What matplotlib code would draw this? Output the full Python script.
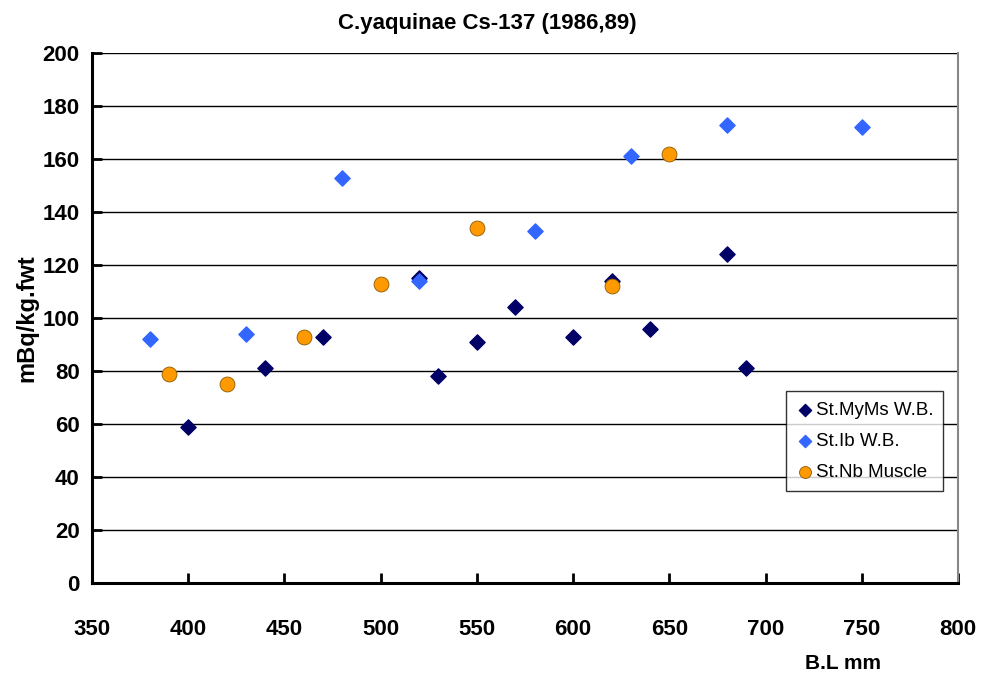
import matplotlib
matplotlib.use("Agg")
import matplotlib.pyplot as plt

plt.rcParams['font.family'] = ['Liberation Sans Narrow', 'Liberation Sans', 'DejaVu Sans']

# St.MyMs W.B.
mym_x = [400, 440, 470, 520, 530, 550, 570, 600, 620, 640, 680, 690]
mym_y = [59, 81, 93, 115, 78, 91, 104, 93, 114, 96, 124, 81]
# St.Ib W.B.
ib_x = [380, 430, 480, 520, 580, 630, 680, 750]
ib_y = [92, 94, 153, 114, 133, 161, 173, 172]
# St.Nb Muscle
nb_x = [390, 420, 460, 500, 550, 620, 650]
nb_y = [79, 75, 93, 113, 134, 112, 162]

x_ticks = [350, 400, 450, 500, 550, 600, 650, 700, 750, 800]
y_ticks = [0, 20, 40, 60, 80, 100, 120, 140, 160, 180, 200]

fig = plt.figure(figsize=(9.81, 6.73), dpi=100)
ax = fig.add_axes([0.0938, 0.1337, 0.8828, 0.7875])

ax.set_xlim(350, 800)
ax.set_ylim(0, 200)
ax.set_xticks(x_ticks)
ax.set_yticks(y_ticks)
ax.yaxis.grid(True, color='black', linewidth=1.0)
ax.set_axisbelow(True)

ax.scatter(mym_x, mym_y, marker='D', s=60, color='#000066', zorder=3,
           label='St.MyMs W.B.')
ax.scatter(ib_x, ib_y, marker='D', s=60, color='#3366ff', zorder=3,
           label='St.Ib W.B.')
ax.scatter(nb_x, nb_y, marker='o', s=115, color='#ff9900', edgecolor='#8a5a00',
           linewidth=0.6, zorder=3, label='St.Nb Muscle')

for s in ['left', 'bottom']:
    ax.spines[s].set_linewidth(2.2)
    ax.spines[s].set_color('black')
ax.spines['right'].set_color('#888888')
ax.spines['right'].set_linewidth(1.5)
ax.spines['top'].set_visible(False)

ax.tick_params(direction='in', length=7, width=2, labelsize=16)
ax.tick_params(axis='x', pad=26)
ax.tick_params(axis='y', pad=9)
for lab in ax.get_xticklabels() + ax.get_yticklabels():
    lab.set_fontweight('bold')

ax.set_title('C.yaquinae Cs-137 (1986,89)', fontsize=16, fontweight='bold',
             pad=17, x=0.457)
ax.set_ylabel('mBq/kg.fwt', fontsize=17, fontweight='bold', labelpad=3)
fig.text(0.859, 0.006, 'B.L mm', fontsize=15, fontweight='bold', ha='center')

leg = ax.legend(loc='lower right', bbox_to_anchor=(0.994, 0.155), fontsize=13.5,
                frameon=True, fancybox=False, edgecolor='black',
                handletextpad=0.05, handlelength=1.0, borderpad=0.55,
                labelspacing=0.75, markerscale=0.8)
leg.get_frame().set_linewidth(1.0)

fig.savefig('out.png', dpi=100)
